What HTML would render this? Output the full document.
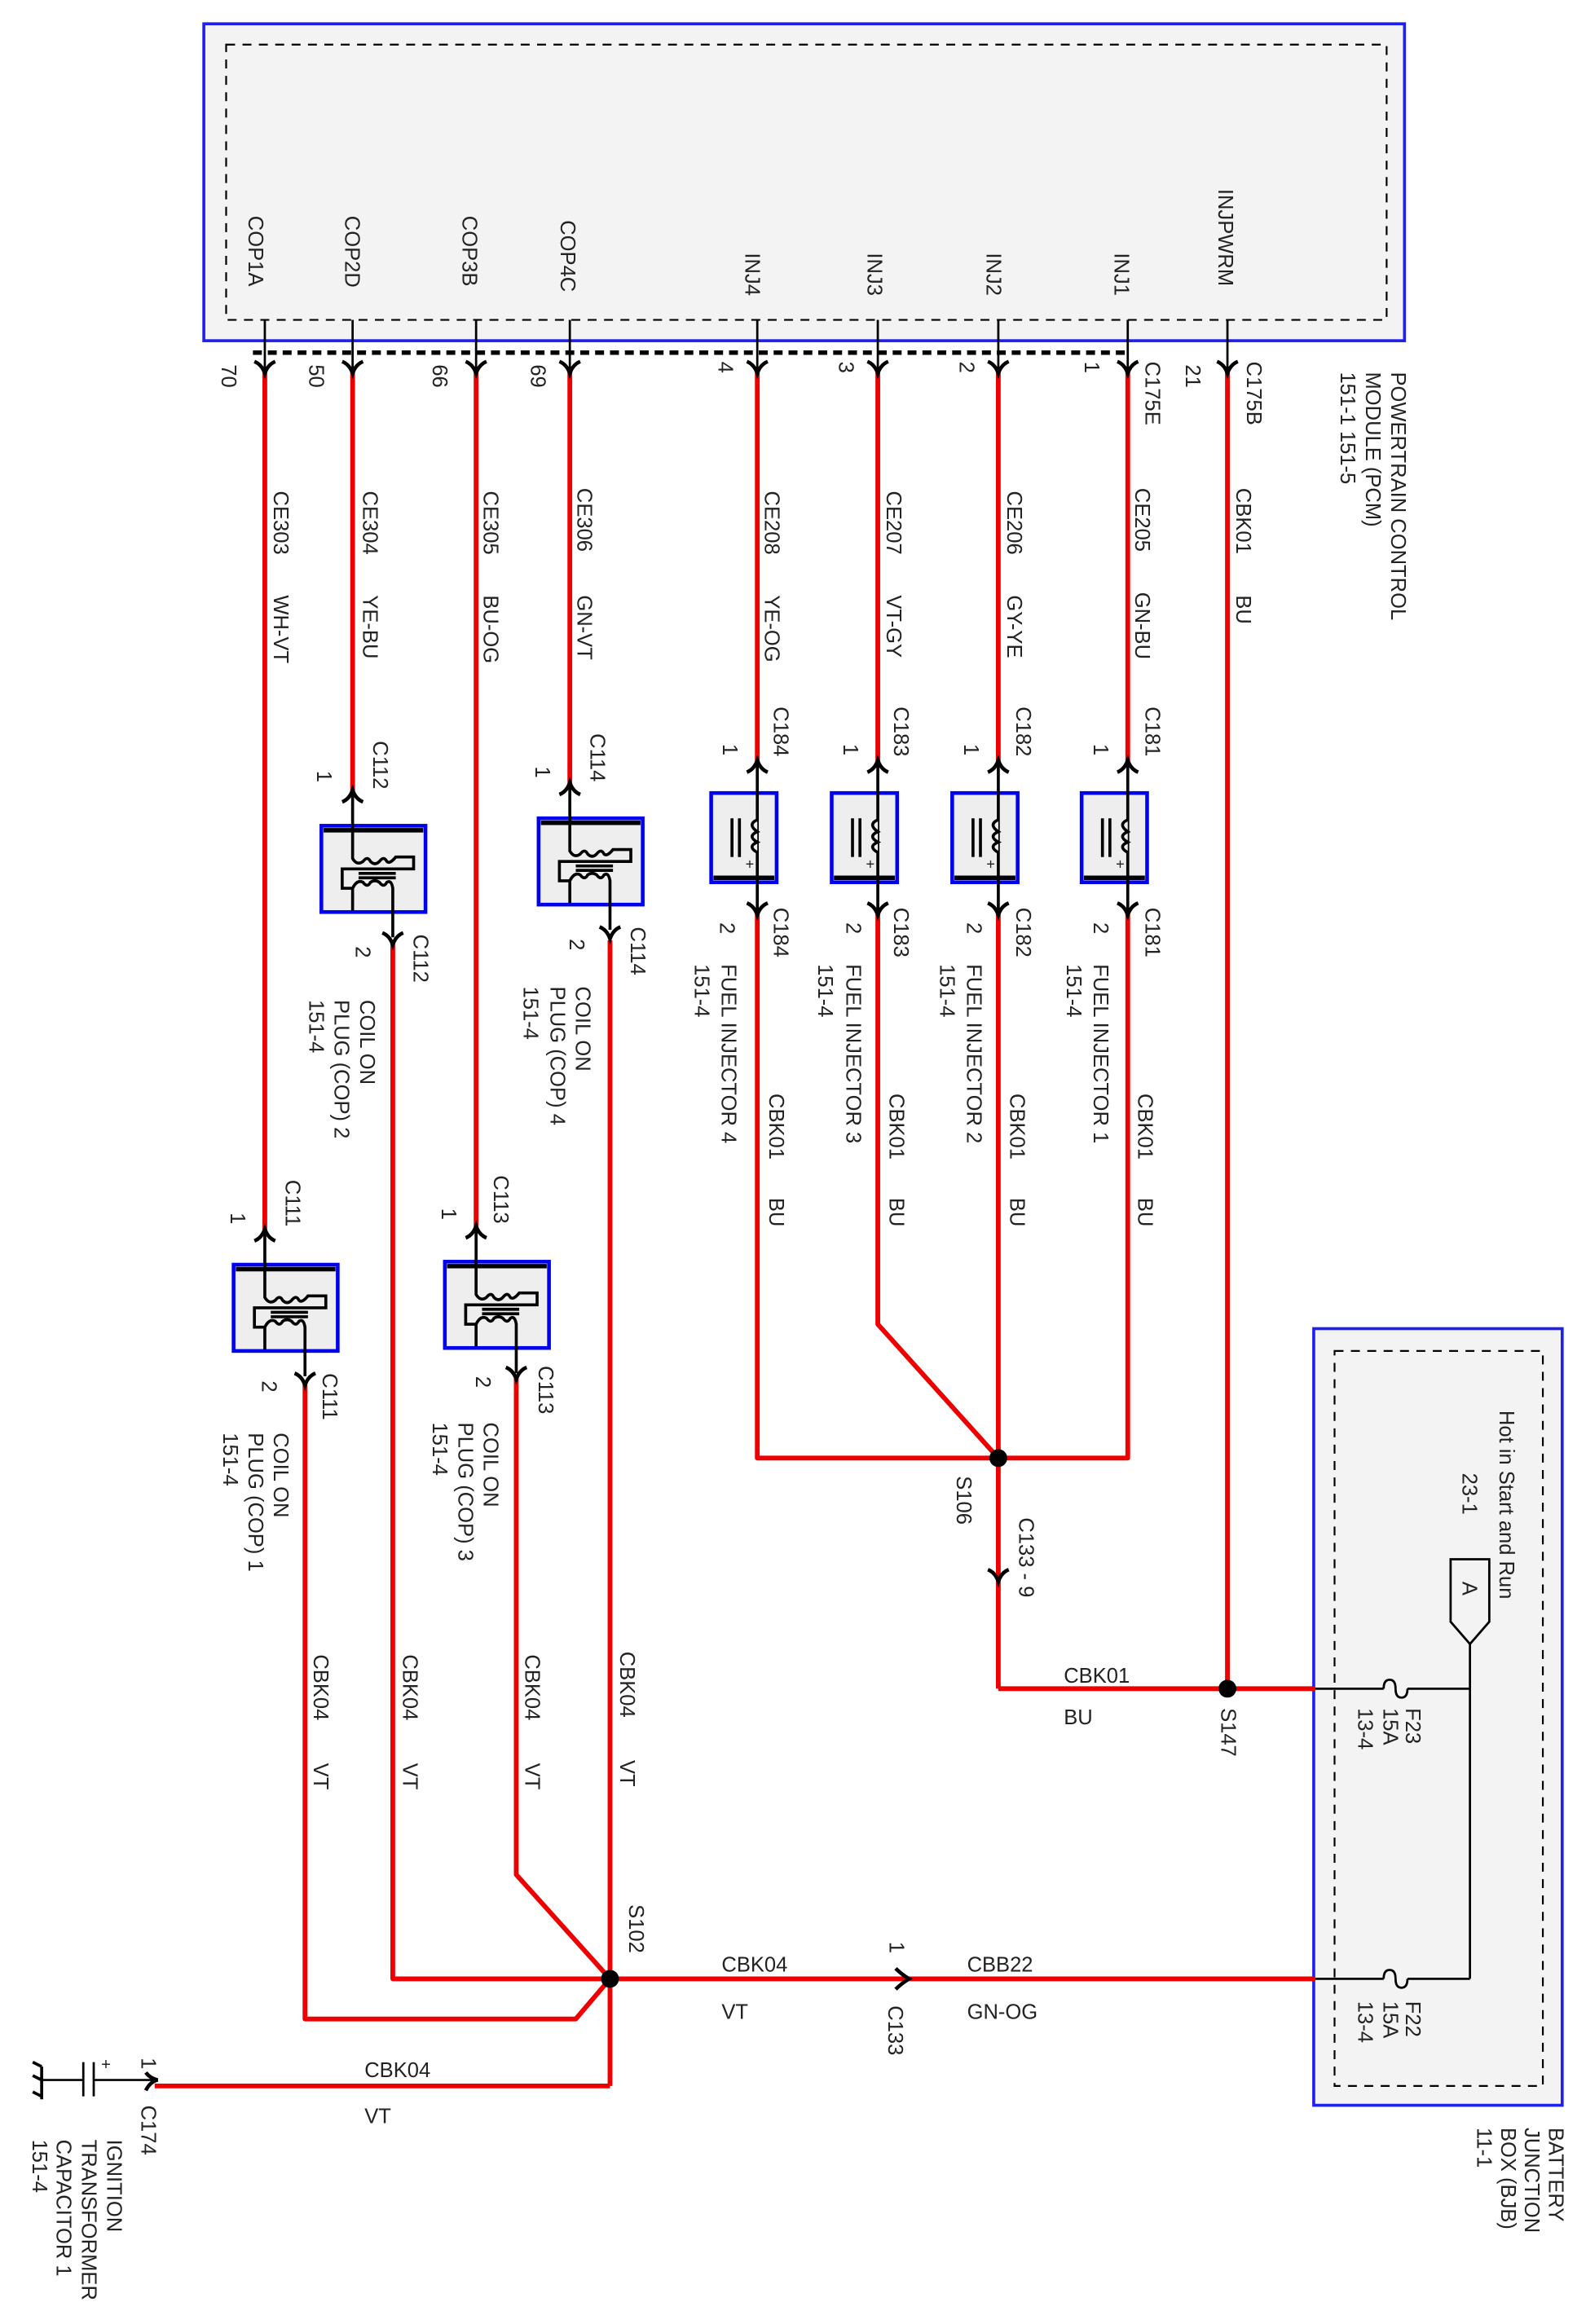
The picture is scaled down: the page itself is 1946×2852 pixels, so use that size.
<!DOCTYPE html>
<html><head><meta charset="utf-8"><style>
html,body{margin:0;padding:0;background:#fff}
svg{display:block}
text{font-family:"Liberation Sans",Arial,sans-serif;font-size:14px;fill:#222}
</style></head><body>
<svg width="1946" height="2852" viewBox="0 0 1066 1562" preserveAspectRatio="none" xmlns="http://www.w3.org/2000/svg">
<defs>
<g id="cd"><path d="M-7,-7 Q-2,-5 0,1 Q2,-5 7,-7" fill="none" stroke="#000" stroke-width="2.5"/></g>
<g id="cu"><path d="M-7,7 Q-2,5 0,-1 Q2,5 7,7" fill="none" stroke="#000" stroke-width="2.5"/></g>
<g id="coil">
<rect x="0" y="0" width="70" height="58" fill="#eeeeee" stroke="#0000ee" stroke-width="2.5"/>
<line x1="1.5" y1="3" x2="68.5" y2="3" stroke="#000" stroke-width="3"/>
<g fill="none" stroke="#000" stroke-width="2">
<path d="M21,-25 L21,22 Q24,27 28,24 Q31,20 33,24 Q36,27 39,24 Q42,20 44,24 Q46,26 50,21 L62,21 L62,29 L14,29 L14,42 L21,42 L21,57"/>
<line x1="25" y1="32" x2="50" y2="32"/><line x1="25" y1="35" x2="50" y2="35"/>
<path d="M21,42 Q24,36 28,38 Q31,42 33,38 Q36,36 39,38 Q42,42 44,38 Q47,36 48,42 L48,75"/>
</g></g>
<g id="inj">
<rect x="0" y="0" width="44" height="60" fill="#eeeeee" stroke="#0000ee" stroke-width="2.5"/>
<line x1="1.5" y1="57" x2="42.5" y2="57" stroke="#000" stroke-width="3"/>
<g fill="none" stroke="#000" stroke-width="2">
<line x1="31" y1="-22" x2="31" y2="82"/>
<line x1="14" y1="17" x2="14" y2="43"/><line x1="19" y1="17" x2="19" y2="43"/>
<path d="M31,18 Q24,21 31,26 Q24,29 31,33 Q24,36 31,40" fill="#eeeeee"/>
</g>
<text x="23" y="51" style="font-size:10px">+</text>
</g>
</defs>

<!-- PCM -->
<rect x="137" y="16" width="807" height="213" fill="#f3f3f3" stroke="#2020ee" stroke-width="2"/>
<rect x="152" y="30" width="780" height="185" fill="none" stroke="#000" stroke-width="1.2" stroke-dasharray="6,5"/>
<g stroke="#000" stroke-width="1.5">
<line x1="178" y1="215" x2="178" y2="250"/><line x1="237" y1="215" x2="237" y2="250"/>
<line x1="320" y1="215" x2="320" y2="250"/><line x1="383" y1="215" x2="383" y2="250"/>
<line x1="509" y1="215" x2="509" y2="250"/><line x1="590" y1="215" x2="590" y2="250"/>
<line x1="671" y1="215" x2="671" y2="250"/><line x1="758" y1="215" x2="758" y2="250"/>
<line x1="825" y1="215" x2="825" y2="250"/>
</g>
<line x1="170" y1="237" x2="760" y2="237" stroke="#000" stroke-width="3" stroke-dasharray="6,4"/>

<!-- BJB -->
<rect x="883" y="893" width="167" height="522" fill="#f3f3f3" stroke="#2020ee" stroke-width="2"/>
<rect x="897" y="908" width="140" height="494" fill="none" stroke="#000" stroke-width="1.2" stroke-dasharray="6,5"/>

<g stroke="#000" stroke-width="1.5" fill="none">
<line x1="988" y1="1100" x2="988" y2="1330"/>
<line x1="884" y1="1135" x2="930" y2="1135"/><line x1="946" y1="1135" x2="988" y2="1135"/>
<line x1="884" y1="1330" x2="930" y2="1330"/><line x1="946" y1="1330" x2="988" y2="1330"/>
<path d="M930,1135 Q930,1129 934,1129 Q938,1129 938,1135 Q938,1141 942,1141 Q946,1141 946,1135"/>
<path d="M930,1330 Q930,1324 934,1324 Q938,1324 938,1330 Q938,1336 942,1336 Q946,1336 946,1330"/>
<path d="M975,1048 L1001,1048 L1001,1090 L988,1105 L975,1090 Z" fill="#f3f3f3"/>
</g>

<!-- red wires -->
<g stroke="#ee0000" stroke-width="3.2" fill="none" stroke-linejoin="round">
<line x1="178" y1="250" x2="178" y2="827"/>
<line x1="237" y1="250" x2="237" y2="532"/>
<line x1="320" y1="250" x2="320" y2="825"/>
<line x1="383" y1="250" x2="383" y2="527"/>
<line x1="509" y1="250" x2="509" y2="512"/>
<line x1="590" y1="250" x2="590" y2="512"/>
<line x1="671" y1="250" x2="671" y2="512"/>
<line x1="758" y1="250" x2="758" y2="512"/>
<line x1="825" y1="250" x2="825" y2="1135"/>
<polyline points="509,612 509,980 758,980 758,612"/>
<polyline points="590,612 590,890 671,980"/>
<line x1="671" y1="612" x2="671" y2="1135"/>
<polyline points="671,1135 884,1135"/>
<polyline points="264,632 264,1330 410,1330"/>
<line x1="410" y1="632" x2="410" y2="1402"/>
<polyline points="205,930 205,1357 387,1357 410,1330"/>
<polyline points="347,925 347,1260 410,1330"/>
<line x1="410" y1="1330" x2="884" y2="1330"/>
<polyline points="410,1402 104,1402"/>
</g>

<!-- capacitor & ground -->
<g stroke="#000" stroke-width="1.5" fill="none">
<line x1="104" y1="1398" x2="63" y2="1398"/><line x1="56" y1="1398" x2="28" y2="1398"/>
<line x1="56" y1="1386" x2="56" y2="1409"/><line x1="63" y1="1386" x2="63" y2="1409"/>
<path d="M28,1389 L28,1411 M28,1389 L22,1386 M28,1398 L22,1395 M28,1409 L22,1406" stroke-width="2"/>
</g>
<text x="68" y="1391" style="font-size:11px">+</text>
<path d="M98,1393 Q101,1397 106,1398 Q101,1399 98,1405" fill="none" stroke="#000" stroke-width="2.5"/>

<!-- splices -->
<circle cx="410" cy="1330" r="6" fill="#000"/>
<circle cx="671" cy="980" r="6" fill="#000"/>
<circle cx="825" cy="1135" r="6" fill="#000"/>

<!-- chevrons at PCM -->
<use href="#cd" x="178" y="250"/><use href="#cd" x="237" y="250"/><use href="#cd" x="320" y="250"/><use href="#cd" x="383" y="250"/>
<use href="#cd" x="509" y="250"/><use href="#cd" x="590" y="250"/><use href="#cd" x="671" y="250"/><use href="#cd" x="758" y="250"/><use href="#cd" x="825" y="250"/>

<!-- components -->
<use href="#coil" x="216" y="555"/><use href="#cu" x="237" y="532"/><use href="#cd" x="264" y="634"/>
<use href="#coil" x="362" y="550"/><use href="#cu" x="383" y="527"/><use href="#cd" x="410" y="630"/>
<use href="#coil" x="157" y="850"/><use href="#cu" x="178" y="827"/><use href="#cd" x="205" y="930"/>
<use href="#coil" x="299" y="848"/><use href="#cu" x="320" y="825"/><use href="#cd" x="347" y="926"/>
<use href="#inj" x="478" y="533"/><use href="#cu" x="509" y="512"/><use href="#cd" x="509" y="614"/>
<use href="#inj" x="559" y="533"/><use href="#cu" x="590" y="512"/><use href="#cd" x="590" y="614"/>
<use href="#inj" x="640" y="533"/><use href="#cu" x="671" y="512"/><use href="#cd" x="671" y="614"/>
<use href="#inj" x="727" y="533"/><use href="#cu" x="758" y="512"/><use href="#cd" x="758" y="614"/>
<use href="#cd" x="671" y="1062"/>
<path d="M602,1323 Q606,1327 611,1330 Q606,1333 602,1337" fill="none" stroke="#000" stroke-width="2.5"/>

<!-- rotated labels -->
<g>
<text transform="translate(167,145) rotate(90)">COP1A</text>
<text transform="translate(232,145) rotate(90)">COP2D</text>
<text transform="translate(311,145) rotate(90)">COP3B</text>
<text transform="translate(377,148) rotate(90)">COP4C</text>
<text transform="translate(501,170) rotate(90)">INJ4</text>
<text transform="translate(583,170) rotate(90)">INJ3</text>
<text transform="translate(663,170) rotate(90)">INJ2</text>
<text transform="translate(749,170) rotate(90)">INJ1</text>
<text transform="translate(819,127) rotate(90)">INJPWRM</text>

<text transform="translate(149,245) rotate(90)">70</text>
<text transform="translate(208,245) rotate(90)">50</text>
<text transform="translate(291,245) rotate(90)">66</text>
<text transform="translate(357,245) rotate(90)">69</text>
<text transform="translate(483,243) rotate(90)">4</text>
<text transform="translate(564,243) rotate(90)">3</text>
<text transform="translate(645,243) rotate(90)">2</text>
<text transform="translate(729,243) rotate(90)">1</text>
<text transform="translate(797,245) rotate(90)">21</text>
<text transform="translate(770,243) rotate(90)">C175E</text>
<text transform="translate(838,243) rotate(90)">C175B</text>

<text transform="translate(184,330) rotate(90)">CE303</text><text transform="translate(184,400) rotate(90)">WH-VT</text>
<text transform="translate(244,330) rotate(90)">CE304</text><text transform="translate(244,400) rotate(90)">YE-BU</text>
<text transform="translate(325,330) rotate(90)">CE305</text><text transform="translate(325,400) rotate(90)">BU-OG</text>
<text transform="translate(388,328) rotate(90)">CE306</text><text transform="translate(388,400) rotate(90)">GN-VT</text>
<text transform="translate(514,330) rotate(90)">CE208</text><text transform="translate(514,400) rotate(90)">YE-OG</text>
<text transform="translate(596,330) rotate(90)">CE207</text><text transform="translate(596,400) rotate(90)">VT-GY</text>
<text transform="translate(677,330) rotate(90)">CE206</text><text transform="translate(677,400) rotate(90)">GY-YE</text>
<text transform="translate(763,328) rotate(90)">CE205</text><text transform="translate(763,398) rotate(90)">GN-BU</text>
<text transform="translate(831,328) rotate(90)">CBK01</text><text transform="translate(831,400) rotate(90)">BU</text>

<text transform="translate(520,475) rotate(90)">C184</text><text transform="translate(486,500) rotate(90)">1</text>
<text transform="translate(601,475) rotate(90)">C183</text><text transform="translate(567,500) rotate(90)">1</text>
<text transform="translate(683,475) rotate(90)">C182</text><text transform="translate(648,500) rotate(90)">1</text>
<text transform="translate(770,475) rotate(90)">C181</text><text transform="translate(735,500) rotate(90)">1</text>

<text transform="translate(484,620) rotate(90)">2</text><text transform="translate(520,610) rotate(90)">C184</text>
<text transform="translate(485,648) rotate(90)">FUEL  INJECTOR 4</text><text transform="translate(467,648) rotate(90)">151-4</text>
<text transform="translate(569,620) rotate(90)">2</text><text transform="translate(601,610) rotate(90)">C183</text>
<text transform="translate(569,648) rotate(90)">FUEL  INJECTOR 3</text><text transform="translate(550,648) rotate(90)">151-4</text>
<text transform="translate(650,620) rotate(90)">2</text><text transform="translate(683,610) rotate(90)">C182</text>
<text transform="translate(650,648) rotate(90)">FUEL  INJECTOR 2</text><text transform="translate(632,648) rotate(90)">151-4</text>
<text transform="translate(735,620) rotate(90)">2</text><text transform="translate(770,610) rotate(90)">C181</text>
<text transform="translate(735,648) rotate(90)">FUEL  INJECTOR 1</text><text transform="translate(717,648) rotate(90)">151-4</text>

<text transform="translate(517,735) rotate(90)">CBK01</text><text transform="translate(517,805) rotate(90)">BU</text>
<text transform="translate(598,735) rotate(90)">CBK01</text><text transform="translate(598,805) rotate(90)">BU</text>
<text transform="translate(679,735) rotate(90)">CBK01</text><text transform="translate(679,805) rotate(90)">BU</text>
<text transform="translate(765,735) rotate(90)">CBK01</text><text transform="translate(765,805) rotate(90)">BU</text>

<text transform="translate(251,498) rotate(90)">C112</text><text transform="translate(213,518) rotate(90)">1</text>
<text transform="translate(239,636) rotate(90)">2</text><text transform="translate(278,628) rotate(90)">C112</text>
<text transform="translate(242,672) rotate(90)">COIL ON</text><text transform="translate(225,672) rotate(90)">PLUG (COP) 2</text><text transform="translate(208,672) rotate(90)">151-4</text>

<text transform="translate(397,493) rotate(90)">C114</text><text transform="translate(360,515) rotate(90)">1</text>
<text transform="translate(383,631) rotate(90)">2</text><text transform="translate(424,623) rotate(90)">C114</text>
<text transform="translate(387,663) rotate(90)">COIL ON</text><text transform="translate(370,663) rotate(90)">PLUG (COP) 4</text><text transform="translate(352,663) rotate(90)">151-4</text>

<text transform="translate(192,793) rotate(90)">C111</text><text transform="translate(155,815) rotate(90)">1</text>
<text transform="translate(176,928) rotate(90)">2</text><text transform="translate(217,923) rotate(90)">C111</text>
<text transform="translate(184,963) rotate(90)">COIL ON</text><text transform="translate(167,963) rotate(90)">PLUG (COP) 1</text><text transform="translate(150,963) rotate(90)">151-4</text>

<text transform="translate(332,790) rotate(90)">C113</text><text transform="translate(297,812) rotate(90)">1</text>
<text transform="translate(320,925) rotate(90)">2</text><text transform="translate(362,918) rotate(90)">C113</text>
<text transform="translate(325,956) rotate(90)">COIL ON</text><text transform="translate(308,956) rotate(90)">PLUG (COP) 3</text><text transform="translate(291,956) rotate(90)">151-4</text>

<text transform="translate(211,1112) rotate(90)">CBK04</text><text transform="translate(211,1185) rotate(90)">VT</text>
<text transform="translate(271,1112) rotate(90)">CBK04</text><text transform="translate(271,1185) rotate(90)">VT</text>
<text transform="translate(353,1112) rotate(90)">CBK04</text><text transform="translate(353,1185) rotate(90)">VT</text>
<text transform="translate(417,1110) rotate(90)">CBK04</text><text transform="translate(417,1183) rotate(90)">VT</text>

<text transform="translate(423,1280) rotate(90)">S102</text>
<text transform="translate(643,992) rotate(90)">S106</text>
<text transform="translate(685,1020) rotate(90)">C133 - 9</text>
<text transform="translate(821,1148) rotate(90)">S147</text>
<text transform="translate(598,1305) rotate(90)">1</text>
<text transform="translate(597,1348) rotate(90)">C133</text>
<text transform="translate(95,1383) rotate(90)">1</text>
<text transform="translate(95,1415) rotate(90)">C174</text>
<text transform="translate(72,1438) rotate(90)">IGNITION</text>
<text transform="translate(55,1438) rotate(90)">TRANSFORMER</text>
<text transform="translate(38,1438) rotate(90)">CAPACITOR 1</text>
<text transform="translate(22,1438) rotate(90)">151-4</text>

<text transform="translate(945,1148) rotate(90)">F23</text><text transform="translate(930,1148) rotate(90)">15A</text><text transform="translate(913,1148) rotate(90)">13-4</text>
<text transform="translate(945,1345) rotate(90)">F22</text><text transform="translate(930,1345) rotate(90)">15A</text><text transform="translate(913,1345) rotate(90)">13-4</text>
<text transform="translate(1008,948) rotate(90)">Hot in Start and Run</text>
<text transform="translate(983,990) rotate(90)">23-1</text>
<text transform="translate(983,1063) rotate(90)">A</text>

<text transform="translate(1041,1430) rotate(90)">BATTERY</text>
<text transform="translate(1025,1430) rotate(90)">JUNCTION</text>
<text transform="translate(1009,1430) rotate(90)">BOX (BJB)</text>
<text transform="translate(993,1430) rotate(90)">11-1</text>

<text transform="translate(935,250) rotate(90)">POWERTRAIN CONTROL</text>
<text transform="translate(918,250) rotate(90)">MODULE (PCM)</text>
<text transform="translate(901,250) rotate(90)">151-1   151-5</text>
</g>

<!-- horizontal labels -->
<text x="715" y="1131">CBK01</text><text x="715" y="1159">BU</text>
<text x="485" y="1325">CBK04</text><text x="485" y="1357">VT</text>
<text x="650" y="1325">CBB22</text><text x="650" y="1357">GN-OG</text>
<text x="245" y="1396">CBK04</text><text x="245" y="1427">VT</text>
</svg>
</body></html>
